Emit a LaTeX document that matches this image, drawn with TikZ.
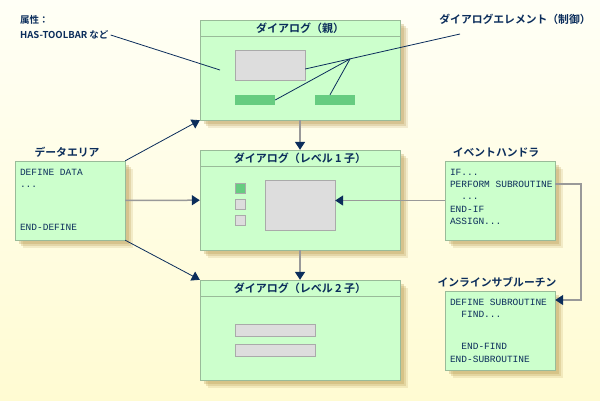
\documentclass[tikz,border=0pt]{standalone}
\usepackage{fontspec}
\newfontfamily\jpfont{Noto Sans CJK JP}
\newfontfamily\jpbold{Noto Sans CJK JP Bold}
\newfontfamily\codefont{Liberation Mono}
\usetikzlibrary{arrows.meta,shadows}

\definecolor{navy}{HTML}{0B2D5B}
\definecolor{boxfill}{HTML}{CCFFCC}
\definecolor{boxline}{HTML}{99BB99}
\definecolor{ctlgray}{HTML}{DDDDDD}
\definecolor{ctlline}{HTML}{AAAAAA}
\definecolor{ctlgreen}{HTML}{66CC80}
\definecolor{linegray}{HTML}{999999}
\definecolor{bgtop}{HTML}{FFFFF6}
\definecolor{bgbot}{HTML}{FFFBD2}
\definecolor{shadowtan}{HTML}{B89A50}

\tikzset{
  panel/.style={draw=boxline, fill=boxfill, inner sep=0pt,
    drop shadow={shadow xshift=8pt, shadow yshift=-8pt, fill=shadowtan, opacity=.18},
    drop shadow={shadow xshift=6pt, shadow yshift=-6pt, fill=shadowtan, opacity=.25},
    drop shadow={shadow xshift=4pt, shadow yshift=-4pt, fill=shadowtan, opacity=.3}},
  dlg/.style={panel, minimum width=200pt, minimum height=100pt},
  dlgtitle/.style={draw=boxline, anchor=north, minimum width=200pt, minimum height=16pt,
    inner sep=0pt, text=navy, font=\jpbold\fontsize{11}{12}\selectfont},
  codebox/.style={panel, minimum width=110pt, minimum height=79pt},
  codetext/.style={anchor=north west, align=left, inner sep=0pt, text=navy,
    font=\codefont\fontsize{9.5}{12.3}\selectfont},
  boxlabel/.style={anchor=south, text=navy, font=\jpbold\fontsize{10.8}{12}\selectfont},
  note/.style={inner sep=0pt, text=navy, font=\jpbold\fontsize{9.5}{12}\selectfont},
  ctl/.style={draw=ctlline, fill=ctlgray, inner sep=0pt},
  bar/.style={fill=ctlgreen, inner sep=0pt},
  tipline/.style={navy, line width=0.8pt},
  flow/.style={linegray, line width=1.5pt, -{Triangle[length=8pt,width=10pt,color=navy]}},
  link/.style={navy, line width=0.8pt, -{Triangle[length=8pt,width=10pt]}},
}

\begin{document}
\begin{tikzpicture}[x=1pt, y=-1pt]
\shade[top color=bgtop, bottom color=bgbot] (0,0) rectangle (600,400);
\useasboundingbox (0,0) rectangle (600,400);

% dialogs
\node[dlg] (parent) at (300,70) {};
\node[dlgtitle] (parenttitle) at (parent.north) {ダイアログ（親）};
\node[ctl, minimum width=70pt, minimum height=30pt] (pscreen) at (270,65) {};
\node[bar, minimum width=40pt, minimum height=10pt] (pbarl) at (255,100) {};
\node[bar, minimum width=40pt, minimum height=10pt] (pbarr) at (335,100) {};

\node[dlg] (lvl1) at (300,200) {};
\node[dlgtitle] (lvl1title) at (lvl1.north) {ダイアログ（レベル 1 子）};
\node[bar, draw=ctlline, minimum size=10pt] (sq1) at (240,188) {};
\node[ctl, minimum size=10pt] (sq2) at (240,204) {};
\node[ctl, minimum size=10pt] (sq3) at (240,220) {};
\node[ctl, minimum width=70pt, minimum height=50pt] (lscreen) at (300,205) {};

\node[dlg] (lvl2) at (300,330) {};
\node[dlgtitle] (lvl2title) at (lvl2.north) {ダイアログ（レベル 2 子）};
\node[ctl, minimum width=80pt, minimum height=12pt] (fld1) at (275,330) {};
\node[ctl, minimum width=80pt, minimum height=12pt] (fld2) at (275,350) {};

% code boxes
\node[codebox] (data) at (70,200.5) {};
\node[boxlabel] (datalabel) at ([xshift=-3pt]data.north) {データエリア};
\node[codetext, xshift=5pt, yshift=-8pt] (datacode) at (data.north west)
  {DEFINE DATA\\...\\[31pt]END-DEFINE};

\node[codebox] (evt) at (500,200.5) {};
\node[boxlabel] (evtlabel) at ([xshift=-4pt]evt.north) {イベントハンドラ};
\node[codetext, xshift=5pt, yshift=-8pt] (evtcode) at (evt.north west)
  {IF...\\PERFORM SUBROUTINE\\\phantom{XX}...\\END-IF\\ASSIGN...};

\node[codebox] (sub) at (500,330.5) {};
\node[boxlabel] (sublabel) at ([xshift=-3pt]sub.north) {インラインサブルーチン};
\node[codetext, xshift=5pt, yshift=-8pt] (subcode) at (sub.north west)
  {DEFINE SUBROUTINE\\\phantom{XX}FIND...\\[20pt]\phantom{XX}END-FIND\\END-SUBROUTINE};

% notes
\node[note, anchor=west] (attrhead) at (20,20) {属性：};
\node[note, anchor=west] (attr) at (20,35) {HAS-TOOLBAR など};
\node[note, anchor=center, font=\jpbold\fontsize{10.8}{12}\selectfont] (ctllabel) at (515,19) {ダイアログエレメント（制御）};

\coordinate (attrpt) at (220,70);
\coordinate (ctlpt) at (460,34);
\coordinate (jn) at (350,59);
\coordinate (perf) at (555,184);

\draw[tipline] ([xshift=2pt]attr.east) -- (attrpt);
\draw[tipline] (ctlpt) -- ([yshift=-4pt]pscreen.east);
\draw[tipline] (pbarl.east) -- (jn);
\draw[tipline] ([xshift=-5pt]pbarr.north) -- (jn);

% connectors
\draw[flow] (parent) -- (lvl1);
\draw[flow] (lvl1) -- (lvl2);
\draw[flow] (data) -- (lvl1);
\draw[link] (data.north east) -- (parent.south west);
\draw[link] (data.south east) -- (lvl2.north west);
\draw[flow] (evt.west) -- (lscreen.east |- evt.west);
\draw[flow] (perf) -- ++(26,0) |- (sub.east |- 0,300);
\end{tikzpicture}
\end{document}
